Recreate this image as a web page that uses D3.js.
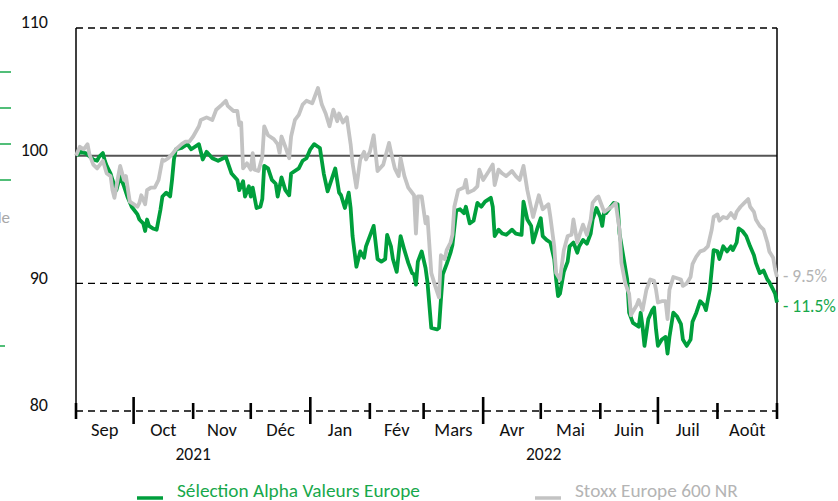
<!DOCTYPE html>
<html>
<head>
<meta charset="utf-8">
<script src="https://cdn.jsdelivr.net/npm/d3@7"></script>
<style>
  body { margin: 0; background: #fff; }
  svg { display: block; font-family: Carlito, Lato, "Open Sans", sans-serif; }
</style>
</head>
<body>
<script>
// Sélection Alpha Valeurs Europe, base 100 au 1er septembre 2021
const selection = [
  ["2021-09-01", 100.0], ["2021-09-02", 100.1], ["2021-09-03", 100.3], ["2021-09-06", 100.2],
  ["2021-09-10", 99.7], ["2021-09-12", 99.6], ["2021-09-13", 99.9], ["2021-09-15", 100.2],
  ["2021-09-16", 99.6], ["2021-09-17", 99.2], ["2021-09-19", 98.6], ["2021-09-20", 98.1],
  ["2021-09-22", 97.3], ["2021-09-24", 98.4], ["2021-09-26", 97.6], ["2021-09-28", 96.7],
  ["2021-09-30", 96.0], ["2021-10-03", 95.4], ["2021-10-04", 95.0], ["2021-10-06", 94.7],
  ["2021-10-07", 94.1], ["2021-10-08", 95.0], ["2021-10-09", 94.5], ["2021-10-11", 94.3],
  ["2021-10-13", 94.2], ["2021-10-15", 95.8], ["2021-10-16", 96.8], ["2021-10-18", 97.1],
  ["2021-10-20", 96.8], ["2021-10-21", 98.1], ["2021-10-22", 99.7], ["2021-10-23", 100.5],
  ["2021-10-26", 100.6], ["2021-10-29", 100.9], ["2021-10-31", 100.5], ["2021-11-04", 100.9],
  ["2021-11-06", 99.7], ["2021-11-08", 100.3], ["2021-11-11", 99.8], ["2021-11-14", 99.6],
  ["2021-11-18", 99.9], ["2021-11-21", 98.6], ["2021-11-24", 98.1], ["2021-11-25", 97.3],
  ["2021-11-27", 98.0], ["2021-11-28", 96.8], ["2021-11-30", 97.6], ["2021-12-01", 96.8],
  ["2021-12-02", 97.5], ["2021-12-04", 95.9], ["2021-12-06", 96.0], ["2021-12-07", 96.6],
  ["2021-12-08", 99.2], ["2021-12-10", 99.0], ["2021-12-12", 98.1], ["2021-12-14", 97.8],
  ["2021-12-15", 96.8], ["2021-12-17", 98.3], ["2021-12-19", 97.3], ["2021-12-21", 96.9],
  ["2021-12-22", 98.6], ["2021-12-26", 99.0], ["2021-12-28", 99.6], ["2021-12-30", 99.8],
  ["2022-01-01", 100.5], ["2022-01-03", 100.9], ["2022-01-05", 100.7], ["2022-01-06", 100.6],
  ["2022-01-08", 98.6], ["2022-01-10", 97.2], ["2022-01-12", 98.1], ["2022-01-14", 99.0],
  ["2022-01-16", 97.1], ["2022-01-17", 96.9], ["2022-01-19", 95.9], ["2022-01-21", 97.1],
  ["2022-01-22", 95.9], ["2022-01-23", 93.7], ["2022-01-25", 91.3], ["2022-01-27", 92.5],
  ["2022-01-29", 92.0], ["2022-01-30", 92.9], ["2022-02-03", 94.5], ["2022-02-05", 91.9],
  ["2022-02-07", 91.7], ["2022-02-09", 91.9], ["2022-02-10", 93.8], ["2022-02-12", 92.9],
  ["2022-02-13", 91.9], ["2022-02-15", 90.9], ["2022-02-17", 93.7], ["2022-02-19", 92.6],
  ["2022-02-21", 91.6], ["2022-02-23", 90.8], ["2022-02-24", 90.7], ["2022-02-25", 89.9],
  ["2022-02-26", 91.7], ["2022-02-28", 92.5], ["2022-03-02", 91.2], ["2022-03-03", 90.1],
  ["2022-03-05", 86.5], ["2022-03-08", 86.4], ["2022-03-09", 86.5], ["2022-03-10", 88.7],
  ["2022-03-11", 90.7], ["2022-03-13", 91.5], ["2022-03-15", 92.4], ["2022-03-16", 93.0],
  ["2022-03-18", 95.7], ["2022-03-20", 95.8], ["2022-03-22", 95.5], ["2022-03-23", 96.0],
  ["2022-03-25", 94.7], ["2022-03-27", 94.9], ["2022-03-29", 96.3], ["2022-03-31", 96.0],
  ["2022-04-02", 96.4], ["2022-04-05", 96.7], ["2022-04-06", 96.0], ["2022-04-07", 93.7],
  ["2022-04-09", 94.2], ["2022-04-11", 93.9], ["2022-04-13", 93.8], ["2022-04-16", 94.2],
  ["2022-04-18", 93.9], ["2022-04-21", 93.8], ["2022-04-22", 96.4], ["2022-04-24", 95.0],
  ["2022-04-26", 94.5], ["2022-04-27", 93.2], ["2022-04-29", 94.2], ["2022-05-01", 95.1],
  ["2022-05-02", 93.7], ["2022-05-04", 93.4], ["2022-05-06", 93.2], ["2022-05-08", 91.9],
  ["2022-05-09", 90.3], ["2022-05-10", 89.0], ["2022-05-11", 89.2], ["2022-05-13", 90.9],
  ["2022-05-15", 91.7], ["2022-05-16", 92.9], ["2022-05-18", 93.2], ["2022-05-20", 92.4],
  ["2022-05-21", 92.9], ["2022-05-23", 93.4], ["2022-05-25", 93.1], ["2022-05-27", 93.9],
  ["2022-05-28", 95.0], ["2022-05-30", 95.9], ["2022-06-01", 95.2], ["2022-06-02", 94.5],
  ["2022-06-03", 95.6], ["2022-06-04", 95.5], ["2022-06-06", 95.9], ["2022-06-08", 96.3],
  ["2022-06-10", 96.2], ["2022-06-11", 93.9], ["2022-06-13", 92.1], ["2022-06-15", 90.3],
  ["2022-06-16", 87.7], ["2022-06-18", 86.9], ["2022-06-21", 86.6], ["2022-06-22", 87.7],
  ["2022-06-23", 86.6], ["2022-06-24", 85.1], ["2022-06-26", 87.2], ["2022-06-28", 87.9],
  ["2022-06-29", 88.1], ["2022-06-30", 86.4], ["2022-07-01", 85.1], ["2022-07-03", 85.6],
  ["2022-07-05", 85.8], ["2022-07-06", 84.5], ["2022-07-07", 85.8], ["2022-07-09", 87.7],
  ["2022-07-11", 87.4], ["2022-07-13", 86.8], ["2022-07-14", 85.6], ["2022-07-16", 85.1],
  ["2022-07-18", 85.6], ["2022-07-19", 87.0], ["2022-07-21", 87.7], ["2022-07-23", 88.6],
  ["2022-07-25", 88.3], ["2022-07-26", 87.9], ["2022-07-28", 89.5], ["2022-07-30", 92.6],
  ["2022-08-01", 92.5], ["2022-08-02", 91.9], ["2022-08-04", 92.9], ["2022-08-06", 92.5],
  ["2022-08-08", 92.9], ["2022-08-09", 92.6], ["2022-08-11", 93.2], ["2022-08-12", 94.3],
  ["2022-08-14", 94.1], ["2022-08-16", 93.7], ["2022-08-18", 92.9], ["2022-08-20", 92.2],
  ["2022-08-21", 91.6], ["2022-08-23", 90.8], ["2022-08-25", 91.0], ["2022-08-27", 90.3],
  ["2022-08-28", 90.1], ["2022-08-29", 89.8], ["2022-08-30", 89.5], ["2022-08-31", 89.2],
  ["2022-09-01", 88.5]
];

// Stoxx Europe 600 NR, base 100
const stoxx = [
  ["2021-09-01", 100.0], ["2021-09-03", 100.7], ["2021-09-05", 100.5], ["2021-09-07", 100.9],
  ["2021-09-08", 100.1], ["2021-09-10", 99.3], ["2021-09-12", 99.0], ["2021-09-13", 99.2],
  ["2021-09-15", 99.6], ["2021-09-17", 98.6], ["2021-09-19", 98.4], ["2021-09-20", 97.3],
  ["2021-09-21", 96.7], ["2021-09-23", 98.4], ["2021-09-24", 99.2], ["2021-09-26", 98.1],
  ["2021-09-27", 98.4], ["2021-09-29", 96.4], ["2021-10-01", 96.2], ["2021-10-03", 96.0],
  ["2021-10-04", 96.3], ["2021-10-05", 96.9], ["2021-10-07", 96.2], ["2021-10-08", 97.3],
  ["2021-10-10", 97.5], ["2021-10-12", 97.5], ["2021-10-14", 98.1], ["2021-10-16", 99.7],
  ["2021-10-17", 99.6], ["2021-10-19", 99.8], ["2021-10-21", 100.1], ["2021-10-23", 100.5],
  ["2021-10-26", 100.9], ["2021-10-28", 101.1], ["2021-10-30", 101.1], ["2021-11-01", 101.5],
  ["2021-11-04", 102.3], ["2021-11-05", 102.8], ["2021-11-08", 103.0], ["2021-11-11", 102.8],
  ["2021-11-13", 103.6], ["2021-11-16", 104.0], ["2021-11-18", 104.3], ["2021-11-19", 103.9],
  ["2021-11-22", 103.5], ["2021-11-24", 103.5], ["2021-11-25", 102.4], ["2021-11-26", 102.6],
  ["2021-11-27", 99.0], ["2021-11-29", 99.4], ["2021-12-01", 98.9], ["2021-12-02", 100.2],
  ["2021-12-03", 98.9], ["2021-12-05", 98.8], ["2021-12-07", 99.9], ["2021-12-08", 102.3],
  ["2021-12-10", 101.6], ["2021-12-13", 101.3], ["2021-12-15", 100.9], ["2021-12-16", 100.2],
  ["2021-12-17", 101.5], ["2021-12-19", 100.7], ["2021-12-21", 99.8], ["2021-12-22", 101.5],
  ["2021-12-24", 102.8], ["2021-12-26", 103.2], ["2021-12-28", 104.0], ["2021-12-30", 104.3],
  ["2022-01-02", 104.1], ["2022-01-03", 104.5], ["2022-01-05", 105.3], ["2022-01-07", 104.0],
  ["2022-01-09", 103.3], ["2022-01-11", 102.3], ["2022-01-13", 103.6], ["2022-01-15", 102.7],
  ["2022-01-16", 103.3], ["2022-01-18", 102.6], ["2022-01-20", 103.0], ["2022-01-22", 100.9],
  ["2022-01-23", 99.4], ["2022-01-25", 97.5], ["2022-01-27", 99.7], ["2022-01-29", 100.3],
  ["2022-01-30", 99.7], ["2022-02-01", 100.3], ["2022-02-03", 101.6], ["2022-02-05", 98.8],
  ["2022-02-08", 99.3], ["2022-02-11", 101.0], ["2022-02-12", 100.3], ["2022-02-14", 99.0],
  ["2022-02-16", 98.4], ["2022-02-17", 99.8], ["2022-02-19", 98.4], ["2022-02-21", 97.5],
  ["2022-02-24", 96.9], ["2022-02-25", 93.9], ["2022-02-26", 96.8], ["2022-02-28", 96.8],
  ["2022-03-02", 94.7], ["2022-03-03", 95.2], ["2022-03-05", 90.8], ["2022-03-07", 89.8],
  ["2022-03-09", 88.9], ["2022-03-10", 92.2], ["2022-03-12", 91.9], ["2022-03-13", 92.6],
  ["2022-03-15", 93.2], ["2022-03-16", 93.8], ["2022-03-17", 96.0], ["2022-03-19", 97.3],
  ["2022-03-22", 97.5], ["2022-03-23", 98.1], ["2022-03-24", 97.1], ["2022-03-27", 97.3],
  ["2022-03-29", 97.6], ["2022-03-30", 98.9], ["2022-04-01", 98.1], ["2022-04-04", 98.8],
  ["2022-04-06", 99.3], ["2022-04-07", 97.7], ["2022-04-09", 98.9], ["2022-04-11", 98.6],
  ["2022-04-13", 98.4], ["2022-04-16", 98.8], ["2022-04-18", 98.4], ["2022-04-20", 98.1],
  ["2022-04-22", 99.2], ["2022-04-24", 97.3], ["2022-04-25", 96.6], ["2022-04-27", 95.2],
  ["2022-04-30", 96.9], ["2022-05-02", 95.8], ["2022-05-05", 96.2], ["2022-05-06", 95.2],
  ["2022-05-08", 92.9], ["2022-05-09", 90.8], ["2022-05-11", 90.3], ["2022-05-13", 92.6],
  ["2022-05-15", 93.7], ["2022-05-17", 93.8], ["2022-05-18", 95.0], ["2022-05-20", 93.2],
  ["2022-05-21", 93.7], ["2022-05-23", 94.6], ["2022-05-25", 93.8], ["2022-05-27", 95.0],
  ["2022-05-28", 96.3], ["2022-05-30", 96.7], ["2022-05-31", 96.8], ["2022-06-02", 96.0],
  ["2022-06-03", 95.6], ["2022-06-05", 95.8], ["2022-06-07", 96.0], ["2022-06-09", 96.3],
  ["2022-06-11", 94.2], ["2022-06-12", 91.6], ["2022-06-14", 90.0], ["2022-06-16", 89.2],
  ["2022-06-17", 87.5], ["2022-06-18", 87.8], ["2022-06-20", 88.3], ["2022-06-21", 88.7],
  ["2022-06-23", 87.9], ["2022-06-25", 89.5], ["2022-06-27", 90.3], ["2022-06-29", 90.2],
  ["2022-06-30", 89.5], ["2022-07-01", 88.5], ["2022-07-03", 88.6], ["2022-07-05", 88.6],
  ["2022-07-06", 87.2], ["2022-07-07", 89.5], ["2022-07-09", 90.5], ["2022-07-11", 90.4],
  ["2022-07-13", 90.3], ["2022-07-14", 89.8], ["2022-07-16", 90.0], ["2022-07-18", 90.5],
  ["2022-07-19", 91.5], ["2022-07-21", 92.1], ["2022-07-23", 92.5], ["2022-07-25", 92.6],
  ["2022-07-27", 92.9], ["2022-07-29", 94.2], ["2022-07-30", 95.2], ["2022-08-01", 95.4],
  ["2022-08-02", 94.9], ["2022-08-04", 95.2], ["2022-08-06", 95.1], ["2022-08-08", 95.5],
  ["2022-08-10", 95.1], ["2022-08-11", 95.6], ["2022-08-13", 96.0], ["2022-08-15", 96.3],
  ["2022-08-17", 96.6], ["2022-08-18", 96.0], ["2022-08-20", 95.6], ["2022-08-21", 95.0],
  ["2022-08-23", 94.5], ["2022-08-25", 94.2], ["2022-08-27", 93.2], ["2022-08-28", 92.5],
  ["2022-08-30", 92.0], ["2022-08-31", 91.1], ["2022-09-01", 90.5]
];

const months = ["Sep", "Oct", "Nov", "Déc", "Jan", "Fév", "Mars", "Avr", "Mai", "Juin", "Juil", "Août"];
const longTickMonths = ["2021-10-01", "2022-01-01", "2022-04-01", "2022-07-01"];
const years = [["2021", "2021-09-01", "2022-01-01"], ["2022", "2022-01-01", "2022-09-01"]];
const yTicks = [80, 90, 100, 110];
const endLabels = [["- 9.5%", 90.5, "stoxx"], ["- 11.5%", 88.5, "selection"]];
const legendNames = ["Sélection Alpha Valeurs Europe", "Stoxx Europe 600 NR"];

const GREEN = "#009f3c", GREEN_TXT = "#17a84b", GREY = "#c3c3c3", GREY_TXT = "#b4b4b4";

const width = 838, height = 501;
const margin = { top: 28, right: 61, bottom: 90, left: 76 };

const parse = d3.utcParse("%Y-%m-%d");

const svg = d3.select("body").append("svg")
    .attr("width", width)
    .attr("height", height);

const x = d3.scaleUtc()
    .domain([parse("2021-09-01"), parse("2022-09-01")])
    .range([margin.left, width - margin.right]);
const y = d3.scaleLinear()
    .domain([80, 110])
    .range([height - margin.bottom, margin.top]);

const x0 = x.range()[0], x1 = x.range()[1];

// stray marks of a neighbouring legend, cut off at the left edge
[72, 108, 144, 180, 346].forEach(yy => {
  svg.append("line").attr("x1", 0).attr("x2", yy === 346 ? 5 : 11)
    .attr("y1", yy).attr("y2", yy)
    .attr("stroke", GREEN_TXT).attr("stroke-width", 1.5);
});
svg.append("text").attr("x", 10).attr("y", 223).attr("text-anchor", "end")
  .attr("font-size", 17).attr("fill", "#a8a8a8").text("le");

// horizontal reference lines
yTicks.forEach(v => {
  svg.append("line")
    .attr("x1", x0).attr("x2", x1)
    .attr("y1", y(v)).attr("y2", y(v))
    .attr("stroke", v === 100 ? "#555" : "#000")
    .attr("stroke-width", v === 100 ? 2 : 1.3)
    .attr("stroke-dasharray", v === 100 ? null : "7,5");
  svg.append("text")
    .attr("x", 48).attr("y", y(v) - 6)
    .attr("dy", "0.35em")
    .attr("text-anchor", "end")
    .attr("font-size", 18)
    .attr("fill", "#111")
    .text(v);
});

// left and right frame lines
[x0, x1].forEach(xx => {
  svg.append("line")
    .attr("x1", xx).attr("x2", xx)
    .attr("y1", y(110)).attr("y2", y(80))
    .attr("stroke", "#000").attr("stroke-width", 1.5);
});

// month ticks
const monthStarts = d3.utcMonth.range(parse("2021-09-01"), parse("2022-09-02"));
const isLong = d => longTickMonths.includes(d3.utcFormat("%Y-%m-%d")(d));
svg.append("g").selectAll("line")
  .data(monthStarts)
  .join("line")
    .attr("x1", d => x(d)).attr("x2", d => x(d))
    .attr("y1", d => y(80) + (isLong(d) ? -14 : -8))
    .attr("y2", d => y(80) + (isLong(d) ? 13 : 8))
    .attr("stroke", "#000")
    .attr("stroke-width", 2.6);

// month labels
svg.append("g").selectAll("text")
  .data(monthStarts.slice(0, 12))
  .join("text")
    .attr("x", d => (x(d) + x(d3.utcMonth.offset(d, 1))) / 2)
    .attr("y", 430)
    .attr("dy", "0.35em")
    .attr("text-anchor", "middle")
    .attr("font-size", 18.5)
    .attr("fill", "#111")
    .text((d, i) => months[i]);

svg.append("g").selectAll("text")
  .data(years)
  .join("text")
    .attr("x", d => (x(parse(d[1])) + x(parse(d[2]))) / 2)
    .attr("y", 454)
    .attr("dy", "0.35em")
    .attr("text-anchor", "middle")
    .attr("font-size", 17.5)
    .attr("fill", "#111")
    .text(d => d[0]);

// series
const line = d3.line()
    .x(d => x(parse(d[0])))
    .y(d => y(d[1]))
    .curve(d3.curveLinear);

svg.append("path")
  .datum(selection)
  .attr("fill", "none")
  .attr("stroke", GREEN)
  .attr("stroke-width", 3.8)
  .attr("stroke-linejoin", "round")
  .attr("d", line);

svg.append("path")
  .datum(stoxx)
  .attr("fill", "none")
  .attr("stroke", GREY)
  .attr("stroke-width", 3.8)
  .attr("stroke-linejoin", "round")
  .attr("d", line);

// end labels
endLabels.forEach(([txt, v, key]) => {
  svg.append("text")
    .attr("x", x1 + 6)
    .attr("y", y(v) + (key === "stoxx" ? -1 : 3))
    .attr("dy", "0.35em")
    .attr("font-size", 17.5)
    .attr("fill", key === "stoxx" ? GREY_TXT : GREEN_TXT)
    .text(txt);
});

// legend
const legend = svg.append("g");
[[137, GREEN, GREEN_TXT], [535, GREY, GREY_TXT]].forEach(([lx, c, tc], i) => {
  legend.append("line")
    .attr("x1", lx).attr("x2", lx + 26)
    .attr("y1", 498).attr("y2", 498)
    .attr("stroke", c).attr("stroke-width", 3.5);
  legend.append("text")
    .attr("x", lx + 40).attr("y", 497)
    .attr("font-size", 19.3)
    .attr("fill", tc)
    .text(legendNames[i]);
});
</script>
</body>
</html>
